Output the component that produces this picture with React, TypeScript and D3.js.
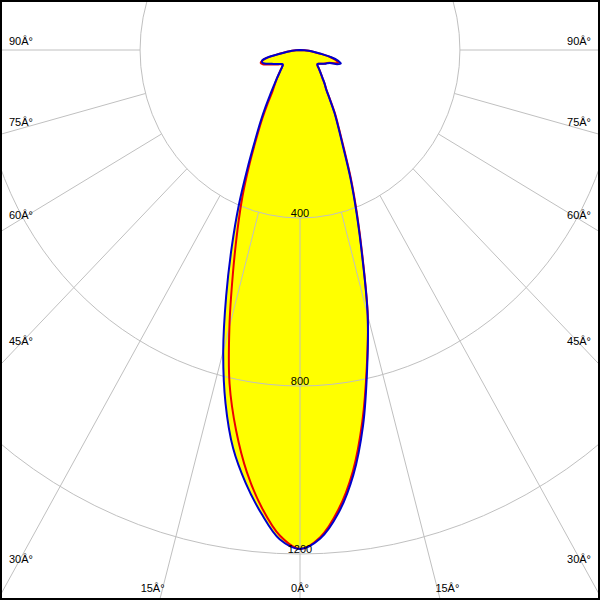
import React from "react";
import * as d3 from "d3";

// Polar angles (degrees from nadir) at which intensities are read
const ANGLES = [0, 2.5, 5, 7.5, 10, 12.5, 15, 17.5, 20, 22.5, 25, 27.5, 30, 32.5, 35, 37.5, 40, 42.5, 45, 47.5, 50, 52.5, 55, 57.5, 60, 62.5, 65, 67.5, 70, 72.5, 75, 77.5, 80, 82.5, 85, 87.5, 90];

// Blue plane (C0 right / C180 left), cd
const BLUE_RIGHT = [1188, 1164, 1106, 1021, 908, 776, 654, 519, 414, 329, 256, 208, 172, 138, 114, 101, 88, 78, 70, 63, 57, 55, 57, 61, 66, 71, 75, 81, 99, 107, 98, 80, 55, 36, 22, 11, 0];
const BLUE_LEFT = [1188, 1166, 1108, 1040, 963, 861, 742, 614, 499, 400, 311, 244, 198, 160, 130, 108, 92, 79, 69, 61, 56, 55, 58, 62, 67, 72, 78, 86, 94, 99, 98, 84, 51, 32, 20, 10, 0];

// Red plane (C90 right / C270 left), cd
const RED_RIGHT = [1188, 1161, 1099, 1012, 898, 772, 655, 522, 418, 334, 261, 211, 175, 140, 115, 101, 88, 78, 70, 63, 57, 55, 57, 61, 65, 70, 74, 79, 93, 100, 93, 77, 53, 35, 22, 11, 0];
const RED_LEFT = [1188, 1157, 1094, 1015, 920, 814, 682, 558, 458, 375, 298, 235, 189, 150, 120, 104, 91, 79, 70, 62, 57, 56, 59, 64, 69, 75, 82, 90, 99, 103, 98, 82, 52, 33, 20, 10, 0];

// Grid
const RING_VALUES = [400, 800, 1200];
const GRID_ANGLES = [-90, -75, -60, -45, -30, -15, 0, 15, 30, 45, 60, 75, 90];
const DEG_SUFFIX = "Â°";

const W = 600;
const H = 600;
const CX = 300;
const CY = 50;
const SX = 0.952; // horizontal compression of the diagram

type Pt = { t: number; v: number };

function buildPlane(right: number[], left: number[]): Pt[] {
  const pts: Pt[] = [];
  for (let i = ANGLES.length - 1; i >= 0; i--) pts.push({ t: ANGLES[i], v: right[i] });
  for (let i = 1; i < ANGLES.length; i++) pts.push({ t: -ANGLES[i], v: left[i] });
  return pts;
}

const rad = (deg: number) => (deg * Math.PI) / 180;

export default function App() {
  const r = d3.scaleLinear().domain([0, 1200]).range([0, 504]);
  const line = d3
    .line<Pt>()
    .x((d) => CX + SX * r(d.v) * Math.sin(rad(d.t)))
    .y((d) => CY + r(d.v) * Math.cos(rad(d.t)))
    .curve(d3.curveCatmullRom.alpha(0.5));

  const bluePath = (line(buildPlane(BLUE_RIGHT, BLUE_LEFT)) || "") + "Z";
  const redPath = (line(buildPlane(RED_RIGHT, RED_LEFT)) || "") + "Z";

  const innerR = r(RING_VALUES[0]);
  const font = "'Liberation Sans', Arial, sans-serif";

  const spokes = GRID_ANGLES.map((t) => {
    const a = rad(t);
    const s = Math.sin(a);
    const c = Math.cos(a);
    const sideS = Math.abs(s) > 1e-9 ? (s < 0 ? CX / (-s * SX) : (W - CX) / (s * SX)) : Infinity;
    const botS = c > 1e-9 ? (H - CY) / c : Infinity;
    let lx: number, ly: number, anchor: string;
    if (sideS <= botS) {
      // label sits on the spoke near the side edge
      const xc = s < 0 ? 16 : W - 16;
      const sAt = Math.abs(xc - CX) / (Math.abs(s) * SX);
      lx = s < 0 ? 9 : 591;
      ly = CY + sAt * c - (Math.abs(t) === 90 ? 5 : 3.5);
      anchor = s < 0 ? "start" : "end";
    } else {
      lx = CX + (H - CY) * Math.tan(a);
      ly = 592;
      anchor = "middle";
    }
    return {
      t,
      x1: CX + SX * innerR * s,
      y1: CY + innerR * c,
      x2: CX + SX * 1000 * s,
      y2: CY + 1000 * c,
      lx,
      ly,
      anchor,
      label: `${Math.abs(t)}${DEG_SUFFIX}`,
    };
  });

  return (
    <div style={{ position: "fixed", left: 0, top: 0, width: W, height: H }}>
      <svg width={W} height={H} style={{ display: "block", background: "#fff" }}>
        <rect x={0} y={0} width={W} height={H} fill="#ffffff" />
        <path d={bluePath} fill="#ffff00" stroke="none" />
        <path d={redPath} fill="#ffff00" stroke="none" />
        <g>
          {RING_VALUES.map((v) => (
            <ellipse key={v} cx={CX} cy={CY} rx={SX * r(v)} ry={r(v)} fill="none" stroke="#c0c0c0" strokeWidth={1} />
          ))}
          {spokes.map((sp) => (
            <line key={sp.t} x1={sp.x1} y1={sp.y1} x2={sp.x2} y2={sp.y2} stroke="#c0c0c0" strokeWidth={1} />
          ))}
        </g>
        <path d={redPath} fill="none" stroke="#ee0000" strokeWidth={2} strokeLinejoin="round" />
        <path d={bluePath} fill="none" stroke="#0000cc" strokeWidth={2} strokeLinejoin="round" />
        <g fontFamily={font} fontSize={11} fill="#000">
          {RING_VALUES.map((v) => (
            <text key={v} x={CX} y={CY + r(v) - 1} textAnchor="middle">
              {v}
            </text>
          ))}
          {spokes.map((sp) => (
            <text key={sp.t} x={sp.lx} y={sp.ly} textAnchor={sp.anchor as any}>
              {sp.label}
            </text>
          ))}
        </g>
        <rect x={1} y={1} width={W - 2} height={H - 2} fill="none" stroke="#000" strokeWidth={2} />
      </svg>
    </div>
  );
}
